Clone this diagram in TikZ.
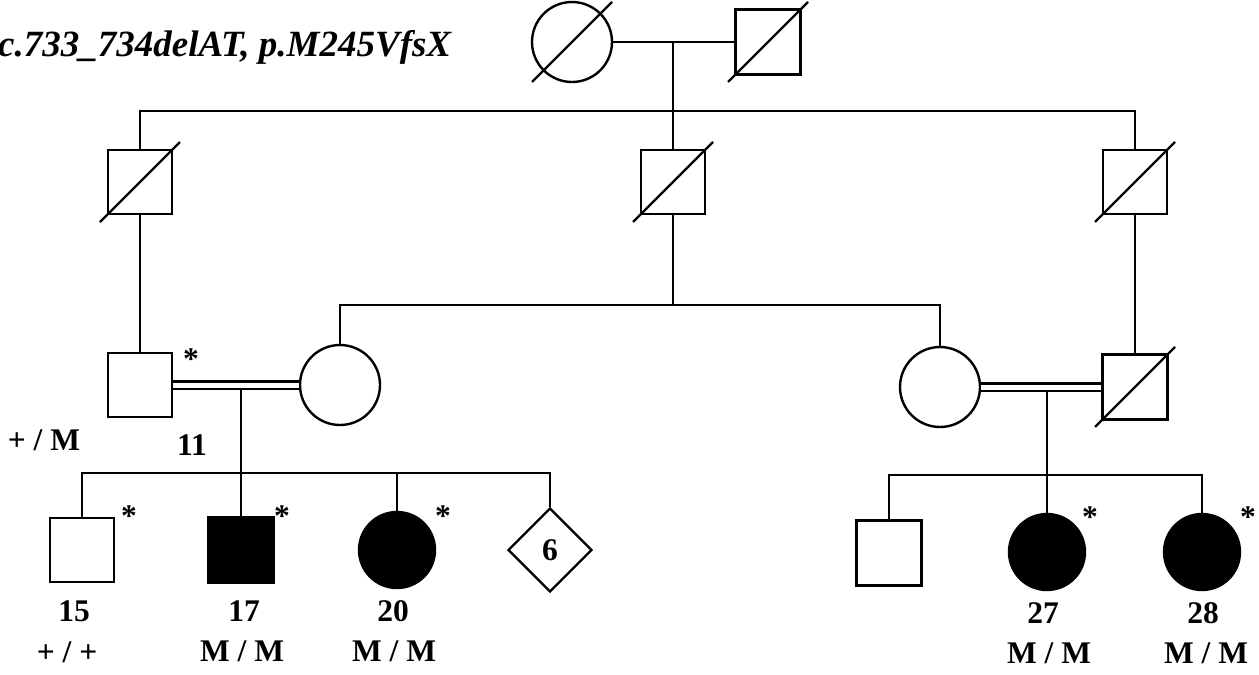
\documentclass[tikz,border=0pt]{standalone}
\usepackage{fontspec}
\setmainfont{Liberation Serif}
\usetikzlibrary{shapes.geometric}

\tikzset{
  maschio/.style={draw, rectangle, minimum size=64pt, inner sep=0pt},
  femmina/.style={draw, circle, minimum size=80pt, inner sep=0pt},
  ignoto/.style={draw, diamond, minimum size=84pt, inner sep=0pt, font=\fontsize{31.5}{36}\selectfont\bfseries},
  malato/.style={fill=black},
  etichetta/.style={font=\fontsize{31.5}{36}\selectfont\bfseries, inner sep=0pt, anchor=base},
  consang/.style={double, double distance=5pt}
}

\begin{document}
\begin{tikzpicture}[x=1pt, y=-1pt, line width=2.4pt]
    \useasboundingbox (0,0) rectangle (1259,675);

     % Titolo
    \node[anchor=base west, inner sep=0pt, font=\fontsize{37}{42}\selectfont\bfseries\itshape] (titolo) at (-3,56) {c.733\_734delAT, p.M245VfsX};

     % Generazione I
    \node[femmina] (I1) at (572,42) {};
    \node[maschio, minimum size=65pt] (I2) at (768,42) {};
    \coordinate (m0) at (673,42);
    \coordinate (s0) at (673,111);
    \draw (I1) -- (I2);
    \draw (m0) -- (s0);

     % Generazione II
    \node[maschio] (II1) at (140,182) {};
    \node[maschio] (II2) at (673,182) {};
    \node[maschio] (II3) at (1135,182) {};
    \draw (II1.north) |- (s0) -| (II3.north);
    \draw (s0) -- (II2.north);

     % Generazione III
    \node[maschio] (III1) at (140,385) {};
    \node[femmina] (III2) at (340,385) {};
    \node[femmina] (III3) at (940,387) {};
    \node[maschio, minimum size=65pt] (III4) at (1135,387) {};
    \coordinate (s1) at (673,305);
    \draw (II1) -- (III1);
    \draw (II3) -- (III4);
    \draw (II2) -- (s1);
    \draw (III2.north) |- (s1) -| (III3.north);
    \draw[consang] (III1) -- (III2);
    \draw[consang] (III3) -- (III4);
    \node[etichetta] (s11) at (191,369) {*};
    \node[etichetta] (g11) at (44,450) {+ / M};
    \node[etichetta] (n11) at (192,455) {11};

     % Generazione IV (sinistra)
    \coordinate (m1) at (241,389);
    \coordinate (s2) at (241,473);
    \node[maschio] (IV1) at (82,550) {};
    \node[maschio, malato, minimum size=65pt] (IV2) at (241,550) {};
    \node[femmina, malato, minimum size=76pt] (IV3) at (397,550) {};
    \node[ignoto] (IV4) at (550,550) {6};
    \draw (m1) -- (IV2.north);
    \draw (IV1.north) |- (s2) -| (IV4.north);
    \draw (IV3.north) -- (IV3.north |- s2);
    \node[etichetta] (s15) at (129,526) {*};
    \node[etichetta] (s17) at (282,526) {*};
    \node[etichetta] (s20) at (443,526) {*};
    \node[etichetta] (n15) at (74,621) {15};
    \node[etichetta] (g15) at (67,662) {+ / +};
    \node[etichetta] (n17) at (244,621) {17};
    \node[etichetta] (g17) at (242,661) {M / M};
    \node[etichetta] (n20) at (393,621) {20};
    \node[etichetta] (g20) at (394,661) {M / M};

     % Generazione IV (destra)
    \coordinate (m2) at (1047,391);
    \coordinate (s3) at (1047,475);
    \node[maschio, minimum size=65pt] (IV5) at (889,553) {};
    \node[femmina, malato, minimum size=76pt] (IV6) at (1047,552) {};
    \node[femmina, malato, minimum size=76pt] (IV7) at (1202,552) {};
    \draw (m2) -- (IV6.north);
    \draw (IV5.north) |- (s3) -| (IV7.north);
    \node[etichetta] (s27) at (1090,527) {*};
    \node[etichetta] (s28) at (1248,527) {*};
    \node[etichetta] (n27) at (1043,623) {27};
    \node[etichetta] (g27) at (1049,663) {M / M};
    \node[etichetta] (n28) at (1203,623) {28};
    \node[etichetta] (g28) at (1206,663) {M / M};

     % Deceduti
    \foreach \p in {I1,I2,II1,II2,II3,III4}
        \draw (\p.center) ++(-40,40) -- ++(80,-80);
\end{tikzpicture}
\end{document}
